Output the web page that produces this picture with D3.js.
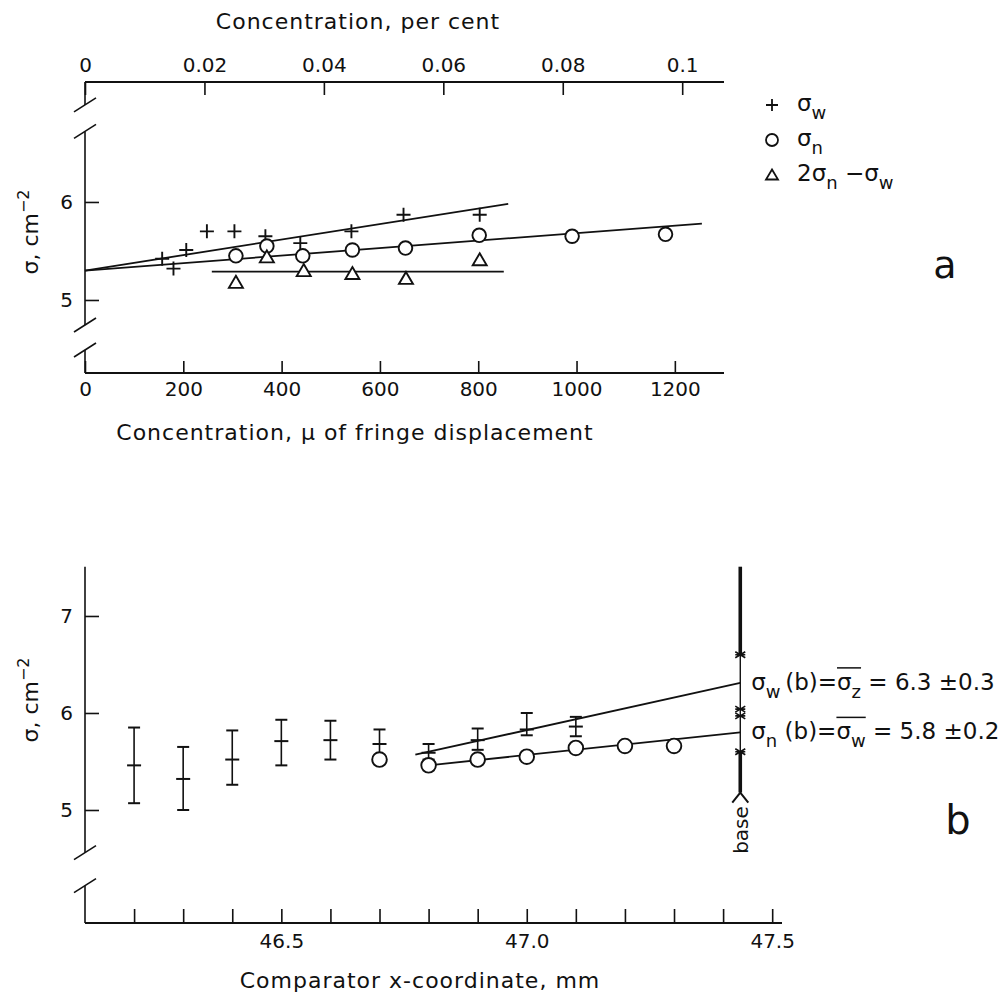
<!DOCTYPE html>
<html lang="en">
<head>
    <title>Sigma vs concentration</title>
    <meta charset="utf-8">
    <script src="https://d3js.org/d3.v7.min.js"></script>
    <style>
        body { margin: 0; background: #fff; }
        svg text { font-family: "DejaVu Sans", sans-serif; fill: #111; }
    </style>
</head>
<body>
<div id="chart"></div>
<script>
    // ---------- panel a data ----------
    const aTopTicks = [0, 0.02, 0.04, 0.06, 0.08, 0.1];
    const aBottomTicks = [0, 200, 400, 600, 800, 1000, 1200];
    const aYTicks = [5, 6];

    // sigma_w (+)
    const aConcW = [157, 180, 206, 248, 304, 367, 438, 542, 648, 803];
    const aSigmaW = [5.42, 5.32, 5.51, 5.70, 5.70, 5.65, 5.58, 5.70, 5.87, 5.87];
    // sigma_n (o)
    const aConcN = [307, 370, 443, 544, 652, 802, 991, 1181];
    const aSigmaN = [5.45, 5.55, 5.45, 5.51, 5.53, 5.66, 5.65, 5.67];
    // 2 sigma_n - sigma_w (triangle)
    const aConcD = [307, 370, 445, 544, 653, 803];
    const aSigmaD = [5.18, 5.44, 5.30, 5.27, 5.22, 5.41];

    // fitted straight lines (end points)
    const aFitW = {x: [0, 861], y: [5.30, 5.98]};
    const aFitN = {x: [0, 1255], y: [5.30, 5.78]};
    const aFitD = {x: [258, 852], y: [5.29, 5.29]};

    // ---------- panel b data ----------
    const bXTicks = [46.2, 46.3, 46.4, 46.5, 46.6, 46.7, 46.8, 46.9, 47.0, 47.1, 47.2, 47.3, 47.4, 47.5];
    const bXLabels = [46.5, 47.0, 47.5];
    const bYTicks = [5, 6, 7];

    const bCoordW = [46.2, 46.3, 46.4, 46.5, 46.6, 46.7, 46.8, 46.9, 47.0, 47.1];
    const bSigmaW = [5.46, 5.32, 5.52, 5.71, 5.72, 5.68, 5.59, 5.72, 5.83, 5.86];
    const bSigmaWLo = [5.07, 5.00, 5.26, 5.46, 5.52, 5.55, 5.52, 5.62, 5.77, 5.76];
    const bSigmaWHi = [5.85, 5.65, 5.82, 5.93, 5.92, 5.83, 5.68, 5.84, 6.00, 5.96];

    const bCoordN = [46.7, 46.8, 46.9, 47.0, 47.1, 47.2, 47.3];
    const bSigmaN = [5.52, 5.46, 5.52, 5.55, 5.64, 5.66, 5.66];

    const bFitW = {x: [46.773, 47.435], y: [5.57, 6.31]};
    const bFitN = {x: [46.8, 47.435], y: [5.46, 5.80]};

    // extrapolated values at the base
    const baseCoord = 47.435;
    const baseW = {value: 6.3, err: 0.3};
    const baseN = {value: 5.8, err: 0.2};

    // ---------- svg ----------
    const svg = d3.select("#chart")
        .append("svg")
        .attr("width", 999)
        .attr("height", 997);

    const ink = "#111";

    // helpers
    function styleAxis(g, size) {
        g.select(".domain").remove();
        g.selectAll(".tick line").attr("stroke", ink).attr("stroke-width", 1.6);
        g.selectAll(".tick text")
            .attr("fill", ink)
            .style("font-family", '"DejaVu Sans", sans-serif')
            .style("font-size", size + "px");
    }

    function breakMark(g, x, y) {
        g.append("line")
            .attr("x1", x - 11).attr("y1", y + 7)
            .attr("x2", x + 11).attr("y2", y - 7)
            .attr("stroke", ink).attr("stroke-width", 1.6);
    }

    function vSeg(g, x, y1, y2, w) {
        g.append("line")
            .attr("x1", x).attr("x2", x)
            .attr("y1", y1).attr("y2", y2)
            .attr("stroke", ink).attr("stroke-width", w || 1.6);
    }

    function yTitle(x, y) {
        const t = svg.append("text")
            .attr("transform", `translate(${x},${y}) rotate(-90)`)
            .attr("text-anchor", "middle")
            .style("font-size", "22px");
        t.append("tspan").text("σ, cm");
        t.append("tspan").attr("dy", -9).style("font-size", "16px").text("−2");
    }

    // rich text: parts = [{t, sub, over}]
    function richText(x, y, parts, size, subSize, subDy) {
        const t = svg.append("text")
            .attr("x", x).attr("y", y)
            .style("font-size", size + "px");
        let idx = 0;
        const overs = [];
        let inSub = false;
        parts.forEach(p => {
            const ts = t.append("tspan").text(p.t);
            if (p.sub && !inSub) { ts.attr("dy", subDy).style("font-size", subSize + "px"); inSub = true; }
            else if (p.sub) { ts.style("font-size", subSize + "px"); }
            else if (inSub) { ts.attr("dy", -subDy); inSub = false; }
            if (p.over) for (let i = 0; i < p.t.length; i++) overs.push(idx + i);
            idx += p.t.length;
        });
        if (overs.length) {
            const node = t.node();
            const first = node.getExtentOfChar(overs[0]);
            const last = node.getExtentOfChar(overs[overs.length - 1]);
            const oy = first.y - 1;
            svg.append("line")
                .attr("x1", first.x).attr("x2", last.x + last.width)
                .attr("y1", oy).attr("y2", oy)
                .attr("stroke", ink).attr("stroke-width", 1.5);
        }
        return t;
    }

    // ================= panel a =================
    const xA = d3.scaleLinear().domain([0, 1300]).range([85, 724]);
    const xTop = d3.scaleLinear().domain([0, 0.107]).range([85, 724]);
    const yA = d3.scaleLinear().domain([4.255, 7.224]).range([373, 82]);
    const gA = svg.append("g");

    // bottom axis
    const axA = gA.append("g")
        .attr("transform", `translate(0,${yA.range()[0]})`)
        .call(d3.axisBottom(xA).tickValues(aBottomTicks).tickSize(-12).tickPadding(9)
            .tickFormat(d3.format("d")));
    styleAxis(axA, 20);
    gA.append("line")
        .attr("x1", xA.range()[0]).attr("x2", xA.range()[1])
        .attr("y1", yA.range()[0]).attr("y2", yA.range()[0])
        .attr("stroke", ink).attr("stroke-width", 1.8);

    // top axis
    const axTop = gA.append("g")
        .attr("transform", `translate(0,${yA.range()[1]})`)
        .call(d3.axisTop(xTop).tickValues(aTopTicks).tickSize(-13).tickPadding(10)
            .tickFormat(d => d === 0 ? "0" : d === 0.1 ? "0.1" : d3.format(".2f")(d)));
    styleAxis(axTop, 20);
    gA.append("line")
        .attr("x1", xTop.range()[0]).attr("x2", xTop.range()[1])
        .attr("y1", yA.range()[1]).attr("y2", yA.range()[1])
        .attr("stroke", ink).attr("stroke-width", 1.8);

    // left axis with breaks
    const ayA = gA.append("g")
        .attr("transform", `translate(${xA(0)},0)`)
        .call(d3.axisLeft(yA).tickValues(aYTicks).tickSize(-14).tickPadding(12)
            .tickFormat(d3.format("d")));
    styleAxis(ayA, 20);
    const aBreaks = [[7.224, 6.99], [6.72, 4.745], [4.49, 4.255]];
    aBreaks.forEach(([t, b]) => vSeg(gA, xA(0), yA(t), yA(b)));
    [6.99, 6.72, 4.745, 4.49].forEach(v => breakMark(gA, xA(0), yA(v)));

    // fit lines
    [aFitW, aFitN, aFitD].forEach(f => {
        gA.append("line")
            .attr("x1", xA(f.x[0])).attr("y1", yA(f.y[0]))
            .attr("x2", xA(f.x[1])).attr("y2", yA(f.y[1]))
            .attr("stroke", ink).attr("stroke-width", 1.8);
    });

    const plusPath = "M-7,0H7M0,-7V7";
    const triPath = "M0,-6.5L7,5.5H-7Z";

    gA.selectAll(".ptW")
        .data(aConcW.map((c, i) => [c, aSigmaW[i]]))
        .join("path")
        .attr("transform", d => `translate(${xA(d[0])},${yA(d[1])})`)
        .attr("d", plusPath)
        .attr("stroke", ink).attr("stroke-width", 1.9).attr("fill", "none");

    gA.selectAll(".ptN")
        .data(aConcN.map((c, i) => [c, aSigmaN[i]]))
        .join("circle")
        .attr("cx", d => xA(d[0])).attr("cy", d => yA(d[1]))
        .attr("r", 6.8)
        .attr("stroke", ink).attr("stroke-width", 1.9).attr("fill", "#fff");

    gA.selectAll(".ptD")
        .data(aConcD.map((c, i) => [c, aSigmaD[i]]))
        .join("path")
        .attr("transform", d => `translate(${xA(d[0])},${yA(d[1])})`)
        .attr("d", triPath)
        .attr("stroke", ink).attr("stroke-width", 1.9).attr("fill", "#fff");

    // legend
    const legX = 772, legTx = 797;
    const legRows = [105, 140, 175];
    gA.append("path").attr("transform", `translate(${legX},${legRows[0]})`)
        .attr("d", "M-6,0H6M0,-6V6").attr("stroke", ink).attr("stroke-width", 1.8);
    gA.append("circle").attr("cx", legX).attr("cy", legRows[1]).attr("r", 6)
        .attr("stroke", ink).attr("stroke-width", 1.8).attr("fill", "#fff");
    gA.append("path").attr("transform", `translate(${legX},${legRows[2]})`)
        .attr("d", "M0,-5.5L6,4.5H-6Z").attr("stroke", ink).attr("stroke-width", 1.8).attr("fill", "#fff");
    richText(legTx, legRows[0] + 6, [{t: "σ"}, {t: "w", sub: true}], 23, 18, 8);
    richText(legTx, legRows[1] + 6, [{t: "σ"}, {t: "n", sub: true}], 23, 18, 8);
    richText(legTx, legRows[2] + 6, [{t: "2σ"}, {t: "n", sub: true}, {t: " −σ"}, {t: "w", sub: true}], 23, 18, 8);

    svg.append("text").attr("x", 945).attr("y", 278)
        .attr("text-anchor", "middle").style("font-size", "38px").text("a");

    // titles
    svg.append("text").attr("x", 358).attr("y", 29)
        .attr("text-anchor", "middle").style("font-size", "22px").style("letter-spacing", "1px")
        .text("Concentration, per cent");
    svg.append("text").attr("x", 355).attr("y", 440)
        .attr("text-anchor", "middle").style("font-size", "22px").style("letter-spacing", "1px")
        .text("Concentration, μ of fringe displacement");
    yTitle(38, 232);

    // ================= panel b =================
    const xB = d3.scaleLinear().domain([46.1, 47.52]).range([85, 782]);
    const yB = d3.scaleLinear().domain([3.835, 7.508]).range([923, 566.7]);
    const gB = svg.append("g");

    const axB = gB.append("g")
        .attr("transform", `translate(0,${yB.range()[0]})`)
        .call(d3.axisBottom(xB).tickValues(bXTicks).tickSize(-14).tickPadding(11)
            .tickFormat(d => bXLabels.some(v => Math.abs(v - d) < 1e-6) ? d3.format(".1f")(d) : ""));
    styleAxis(axB, 20);
    gB.append("line")
        .attr("x1", xB.range()[0]).attr("x2", xB.range()[1])
        .attr("y1", yB.range()[0]).attr("y2", yB.range()[0])
        .attr("stroke", ink).attr("stroke-width", 1.8);

    const ayB = gB.append("g")
        .attr("transform", `translate(${xB(46.1)},0)`)
        .call(d3.axisLeft(yB).tickValues(bYTicks).tickSize(-14).tickPadding(12)
            .tickFormat(d3.format("d")));
    styleAxis(ayB, 20);
    const bBreaks = [[7.508, 4.56], [4.22, 3.835]];
    bBreaks.forEach(([t, b]) => vSeg(gB, xB(46.1), yB(t), yB(b)));
    [4.56, 4.22].forEach(v => breakMark(gB, xB(46.1), yB(v)));

    // error bars of sigma_w
    const bars = bCoordW.map((c, i) => ({c, v: bSigmaW[i], lo: bSigmaWLo[i], hi: bSigmaWHi[i]}));
    const barG = gB.selectAll(".bar").data(bars).join("g")
        .attr("transform", d => `translate(${xB(d.c)},0)`);
    barG.append("line").attr("y1", d => yB(d.lo)).attr("y2", d => yB(d.hi))
        .attr("stroke", ink).attr("stroke-width", 1.6);
    barG.append("line").attr("x1", -6).attr("x2", 6).attr("y1", d => yB(d.lo)).attr("y2", d => yB(d.lo))
        .attr("stroke", ink).attr("stroke-width", 2);
    barG.append("line").attr("x1", -6).attr("x2", 6).attr("y1", d => yB(d.hi)).attr("y2", d => yB(d.hi))
        .attr("stroke", ink).attr("stroke-width", 2);
    barG.append("line").attr("x1", -7).attr("x2", 7).attr("y1", d => yB(d.v)).attr("y2", d => yB(d.v))
        .attr("stroke", ink).attr("stroke-width", 2);

    // fit lines b
    [bFitW, bFitN].forEach(f => {
        gB.append("line")
            .attr("x1", xB(f.x[0])).attr("y1", yB(f.y[0]))
            .attr("x2", xB(f.x[1])).attr("y2", yB(f.y[1]))
            .attr("stroke", ink).attr("stroke-width", 1.8);
    });

    gB.selectAll(".ptNb")
        .data(bCoordN.map((c, i) => [c, bSigmaN[i]]))
        .join("circle")
        .attr("cx", d => xB(d[0])).attr("cy", d => yB(d[1]))
        .attr("r", 7.3)
        .attr("stroke", ink).attr("stroke-width", 1.9).attr("fill", "#fff");

    // base line
    const bx = xB(baseCoord);
    const wHi = baseW.value + baseW.err, nLo = baseN.value - baseN.err;
    vSeg(gB, bx, yB(yB.domain()[1]), yB(wHi), 3.6);
    vSeg(gB, bx, yB(wHi), yB(nLo), 1.4);
    vSeg(gB, bx, yB(nLo), yB(5.18), 3.6);
    gB.append("path")
        .attr("d", `M${bx - 8},${yB(5.18) + 10}L${bx},${yB(5.18)}L${bx + 8},${yB(5.18) + 10}`)
        .attr("stroke", ink).attr("stroke-width", 2).attr("fill", "none");
    [wHi, baseW.value - baseW.err + 0.04, baseN.value + baseN.err - 0.03, nLo].forEach(v => {
        gB.append("path")
            .attr("transform", `translate(${bx},${yB(v)})`)
            .attr("d", "M-5,-3L5,3M-5,3L5,-3M-5,0H5")
            .attr("stroke", ink).attr("stroke-width", 1.6).attr("fill", "none");
    });

    svg.append("text")
        .attr("transform", `translate(${bx + 1},830) rotate(-90)`)
        .attr("text-anchor", "middle").attr("dominant-baseline", "central")
        .style("font-size", "20px").text("base");

    richText(bx + 11, yB(baseW.value) + 6,
        [{t: "σ"}, {t: "w", sub: true}, {t: "\u2009(b)="}, {t: "σ", over: true}, {t: "z", sub: true, over: true},
            {t: " = 6.3 ±0.3"}], 23, 18, 8);
    richText(bx + 11, yB(baseN.value) + 7,
        [{t: "σ"}, {t: "n", sub: true}, {t: " (b)="}, {t: "σ", over: true}, {t: "w", sub: true, over: true},
            {t: " = 5.8 ±0.2"}], 23, 18, 8);

    svg.append("text").attr("x", 958).attr("y", 834)
        .attr("text-anchor", "middle").style("font-size", "40px").text("b");

    svg.append("text").attr("x", 420).attr("y", 988)
        .attr("text-anchor", "middle").style("font-size", "22px").style("letter-spacing", "1px")
        .text("Comparator x-coordinate, mm");
    yTitle(38, 700);
</script>
</body>
</html>
